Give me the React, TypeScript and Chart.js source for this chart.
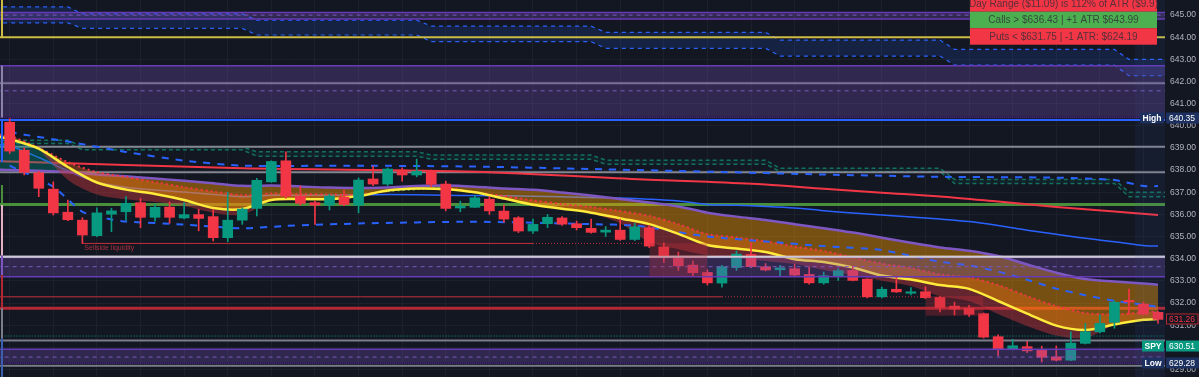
import React, { useEffect, useRef } from 'react';
import { Chart, registerables } from 'chart.js';

Chart.register(...registerables);

const W = 1199;
const H = 377;
const BG = '#131722';
const GREEN = '#089981';
const RED = '#f23645';

// ---- candles (5-min SPY) ----
const opens = [640.16, 638.9, 637.88, 637.14, 636.1, 635.74, 635.04, 636.01, 636.12, 636.53,
  635.87, 636.33, 635.84, 635.99, 635.9, 634.95, 635.74, 636.27, 637.47, 638.42,
  636.83, 636.53, 636.42, 636.78, 636.42, 637.6, 637.37, 638.0, 637.78, 637.97,
  637.37, 636.29, 636.32, 636.69, 636.15, 635.85, 635.25, 635.58, 635.84, 635.58,
  635.37, 635.2, 635.29, 634.87, 635.4, 634.53, 634.09, 633.71, 633.38, 632.9,
  633.6, 634.19, 633.64, 633.5, 633.55, 633.29, 632.91, 633.2, 633.47, 633.08,
  632.28, 632.62, 632.44, 632.51, 632.25, 631.86, 631.76, 631.52, 630.48, 629.91,
  630.03, 629.86, 629.57, 629.42, 630.18, 630.7, 631.13, 632.09, 631.95, 631.58];
const highs = [640.35, 639.0, 637.95, 637.47, 636.65, 635.85, 636.3, 636.28, 636.81, 636.72,
  636.45, 636.57, 636.54, 636.23, 636.23, 637.0, 636.3, 637.63, 638.42, 638.83,
  637.28, 636.6, 636.9, 637.1, 637.65, 638.18, 638.1, 638.1, 638.5, 638.0,
  637.5, 636.6, 636.85, 636.8, 636.42, 635.9, 635.79, 636.0, 635.9, 635.7,
  635.79, 635.45, 635.79, 635.6, 635.5, 634.71, 634.3, 633.89, 633.5, 633.7,
  634.35, 634.72, 633.78, 633.7, 633.75, 633.62, 633.4, 633.55, 633.65, 633.1,
  632.72, 633.16, 632.7, 632.73, 632.3, 632.04, 631.9, 631.55, 630.56, 630.36,
  630.27, 630.05, 630.06, 630.7, 631.08, 631.46, 632.1, 632.63, 632.05, 631.62];
const lows = [638.75, 637.78, 636.8, 635.97, 635.72, 634.69, 635.0, 635.22, 635.74, 635.4,
  635.7, 635.6, 635.8, 635.26, 634.8, 634.77, 635.55, 635.93, 637.45, 636.72,
  636.42, 635.55, 636.2, 636.4, 636.07, 637.3, 637.3, 637.5, 637.7, 637.25,
  636.16, 636.12, 636.3, 636.0, 635.65, 635.18, 635.14, 635.4, 635.5, 635.3,
  635.15, 635.0, 634.83, 634.82, 634.5, 633.82, 633.47, 633.2, 632.81, 632.72,
  633.47, 633.6, 633.45, 633.19, 633.2, 632.85, 632.85, 633.02, 633.0, 632.23,
  632.23, 632.48, 632.37, 632.2, 631.6, 631.46, 631.4, 630.42, 629.62, 629.88,
  629.76, 629.28, 629.38, 629.4, 630.15, 630.65, 630.86, 631.49, 631.45, 631.08];
const closes = [638.86, 637.9, 637.18, 636.07, 635.76, 635.07, 636.07, 636.16, 636.5, 635.87,
  636.32, 635.87, 635.99, 635.82, 634.95, 635.74, 636.24, 637.54, 638.39, 636.83,
  636.5, 636.42, 636.83, 636.45, 637.55, 637.37, 638.05, 637.78, 637.95, 637.36,
  636.27, 636.38, 636.75, 636.16, 635.79, 635.25, 635.55, 635.87, 635.56, 635.4,
  635.19, 635.29, 634.87, 635.44, 634.57, 634.09, 633.68, 633.37, 632.91, 633.64,
  634.21, 633.64, 633.49, 633.59, 633.26, 632.91, 633.23, 633.46, 633.02, 632.28,
  632.62, 632.5, 632.5, 632.24, 631.8, 631.73, 631.49, 630.46, 629.91, 630.07,
  629.84, 629.55, 629.42, 630.19, 630.7, 631.08, 632.03, 632.05, 631.5, 631.26];

// ---- moving-average ribbon (sampled every 2 bars, plus left edge) ----
const ribbonX = [-0.7, 0, 2, 4, 6, 8, 10, 12, 14, 16, 18, 20, 22, 24, 26, 28, 30, 32, 34, 36, 38,
  40, 42, 44, 46, 48, 50, 52, 54, 56, 58, 60, 62, 64, 66, 68, 70, 72, 74, 76, 78, 79];
const yellowEma = [639.5, 639.4, 638.97, 638.14, 637.44, 637.12, 636.92, 636.65, 636.29, 636.24, 636.65,
  636.69, 636.69, 636.83, 637.08, 637.17, 637.14, 637.0, 636.72, 636.44, 636.26,
  636.08, 635.82, 635.56, 635.12, 634.62, 634.46, 634.3, 633.98, 633.85, 633.6,
  633.24, 633.06, 632.81, 632.64, 632.09, 631.52, 630.98, 630.78, 631.03, 631.24, 631.28];
const dottedEma = [639.6, 639.55, 639.0, 638.36, 637.91, 637.69, 637.45, 637.23, 637.03, 636.87, 636.94,
  636.92, 636.9, 636.9, 637.05, 637.14, 637.19, 637.01, 636.83, 636.63, 636.47,
  636.33, 636.15, 635.93, 635.56, 635.11, 634.96, 634.78, 634.55, 634.35, 634.06,
  633.78, 633.58, 633.29, 633.15, 632.81, 632.31, 631.86, 631.55, 631.48, 631.58, 631.61];
const purpleEma = [638.02, 638.0, 637.97, 637.92, 637.8, 637.72, 637.62, 637.52, 637.41, 637.29, 637.31,
  637.26, 637.21, 637.19, 637.22, 637.28, 637.3, 637.25, 637.17, 637.11, 636.99,
  636.85, 636.7, 636.54, 636.36, 636.08, 635.9, 635.75, 635.56, 635.38, 635.18,
  634.95, 634.72, 634.51, 634.36, 634.12, 633.74, 633.37, 633.08, 632.97, 632.88, 632.83];
const blueMa = [639.15, 639.1, 638.57, 637.96, 637.45, 637.23, 637.1, 637.01, 636.9, 636.8, 636.86,
  636.87, 636.87, 636.88, 636.9, 636.89, 636.87, 636.85, 636.84, 636.82, 636.8,
  636.76, 636.74, 636.69, 636.61, 636.45, 636.41, 636.36, 636.29, 636.17, 636.06,
  635.97, 635.88, 635.79, 635.68, 635.5, 635.29, 635.1, 634.92, 634.77, 634.6, 634.57];
const lowerEdge1X = [2, 4, 6, 8, 10, 12, 14, 16, 18];
const lowerEdge1 = [638.97, 637.57, 636.9, 636.68, 636.56, 636.38, 636.08, 635.99, 636.65];
const lowerEdge2X = [40, 42, 44, 46, 48, 50, 52, 54, 56, 58, 60, 62, 64, 66, 68, 70, 72, 74, 76];
const lowerEdge2 = [636.08, 635.6, 634.75, 634.43, 634.16, 634.03, 633.9, 633.76, 633.49, 633.26,
  633.01, 632.77, 632.31, 632.09, 631.5, 630.96, 630.53, 630.42, 631.03];

const redMaX = [-0.7, 0, 16, 32, 44, 48, 52, 56, 60, 64, 68, 72, 76, 79];
const redMa = [638.41, 638.39, 638.08, 637.93, 637.57, 637.47, 637.35, 637.16, 636.98, 636.81, 636.58, 636.34, 636.13, 635.97];

const vwapUpperX = [0, 1, 4, 8, 12, 16, 24, 32, 40, 48, 56, 64, 72, 76, 78, 79];
const vwapUpper = [639.72, 639.6, 639.29, 638.82, 638.43, 638.2, 638.2, 638.16, 638.05, 637.93, 637.8, 637.7, 637.66, 637.55, 637.28, 637.28];
const vwapLowerX = [0, 3, 5, 7, 8, 12, 16, 19, 24, 32, 40, 43, 46, 48, 52, 56, 60, 64, 66, 68, 70, 72, 74, 76, 79];
const vwapLower = [638.2, 637.25, 636.12, 635.77, 635.68, 635.54, 635.37, 635.48, 635.59, 635.67, 635.56, 635.5, 635.2, 635.0, 634.78, 634.57, 634.39, 633.86, 633.7, 633.42, 633.05, 632.65, 632.35, 632.1, 631.83];

// ---- hourly step bands ----
const stepX = [-1, 4, 5, 16, 17, 28, 29, 40, 41, 52, 53, 64, 65, 76, 77, 81];
const blueBandUpper = [645.37, 645.37, 645.05, 645.05, 644.77, 644.77, 644.5, 644.5, 644.22, 644.22, 643.87, 643.87, 643.45, 643.45, 643.0, 643.0];
const blueBandLower = [644.65, 644.65, 644.4, 644.4, 644.1, 644.1, 643.8, 643.8, 643.5, 643.5, 643.15, 643.15, 642.74, 642.74, 642.26, 642.26];
const tealBandUpper = [639.35, 639.35, 639.05, 639.05, 638.83, 638.83, 638.68, 638.68, 638.45, 638.45, 638.08, 638.08, 637.58, 637.58, 637.0, 637.0];
const tealBandLower = [639.2, 639.2, 638.92, 638.92, 638.63, 638.63, 638.49, 638.49, 638.27, 638.27, 637.93, 637.93, 637.4, 637.4, 636.8, 636.8];

// ---- horizontal levels ----
const levelPrices = [644.0, 641.92, 640.38, 640.26, 639.05, 637.9, 636.45, 634.09, 631.76, 630.51, 630.31, 629.28, 629.17];
const levelColors = ['#cdbd45', '#7b7d88', '#07080c', '#2962ff', '#858790', '#858790', '#4a8f3c', '#cfcbd6', '#b22833', '#089981', '#7b7d88', '#07080c', '#7b7d88'];
const levelWidths = [2, 2, 2, 2, 2, 2, 3, 2, 3, 1, 2, 2, 2];
const levelDotted = [false, false, true, false, false, false, false, false, false, true, false, true, false];

// ---- purple zones ----
const zoneTops = [645.12, 642.71, 634.09, 629.91];
const zoneMids = [645.0, 641.58, 633.64, 629.56];
const zoneBottoms = [644.82, 640.38, 633.19, 629.28];

// ---- liquidity lines ----
const liqPrices = [634.69, 632.28];
const liqSolidFrom = [5, -1];
const liqSolidTo = [36, 49];
const liqDottedTo = [44, 63];
const sellsideLabel = 'Sellside liquidity';

// ---- FVG boxes ----
const boxFrom = [44, 63];
const boxTo = [48, 67];
const boxTops = [634.7, 632.32];
const boxBottoms = [633.2, 631.42];

// ---- left edge connectors ----
const edgeFrom = [645.68, 642.71, 640.26, 637.33, 636.42, 634.16, 633.26, 631.77, 630.42];
const edgeTo = [644.0, 640.38, 638.36, 636.42, 634.16, 633.26, 631.77, 630.42, 628.66];
const edgeColors = ['#cdbd45', '#8a84a8', '#2962ff', '#4a8f3c', '#e6b3c3', '#7e57c2', '#b22833', '#7b7d88', '#3d5fb0'];

// ---- axis ----
const yMin = 628.66;
const yMax = 645.68;
const yTicks = [629, 630, 631, 632, 633, 634, 635, 636, 637, 638, 639, 640, 641, 642, 643, 644, 645];
const xMin = -0.667;
const xMax = 79.48;
const xGrid = [0, 3, 6, 9, 12, 15, 18, 21, 24, 27, 30, 33, 36, 39, 42, 45, 48, 51, 54, 57, 60, 63, 66, 69, 72, 75, 78];
const shadeFrom = 77.42;

// ---- right-axis price labels ----
const tagTexts = ['640.35', '631.26', '630.51', '629.28'];
const tagAt = [640.35, 631.26, 630.07, 629.28];
const tagNames = ['High', '', 'SPY', 'Low'];
const tagBg = ['#1c3160', '#131722', '#089981', '#1c3160'];
const tagFg = ['#ffffff', '#f23645', '#ffffff', '#ffffff'];
const tagBorder = ['', '#b22833', '', ''];

// ---- table ----
const tableRows = ['Day Range ($11.09) is 112% of ATR ($9.9)', 'Calls > $636.43 | +1 ATR $643.99', 'Puts < $631.75 | -1 ATR: $624.19'];
const tableColors = ['#f23645', '#4caf50', '#f23645'];

const FONT = '"Liberation Sans", Arial, sans-serif';

function pts(xs: number[], ys: number[]) {
  return xs.map((x, k) => ({ x, y: ys[k] }));
}
function flat(p: number, x0 = -2, x1 = 82) {
  return [{ x: x0, y: p }, { x: x1, y: p }];
}

function buildDatasets() {
  const ds: any[] = [];
  const add = (d: any) => {
    ds.push({ type: 'line', pointRadius: 0, borderWidth: 1, fill: false, tension: 0, ...d });
    return ds.length - 1;
  };

  // step bands
  const bbLow = add({ data: pts(stepX, blueBandLower), borderColor: '#2962ff', borderWidth: 1.2, borderDash: [4, 4], order: 95 });
  add({ data: pts(stepX, blueBandUpper), borderColor: '#2962ff', borderWidth: 1.2, borderDash: [4, 4], order: 95,
    fill: { target: bbLow, above: 'rgba(41,98,255,0.15)', below: 'rgba(41,98,255,0.15)' } });
  const tbLow = add({ data: pts(stepX, tealBandLower), borderColor: '#14705f', borderWidth: 1.5, borderDash: [4, 3], order: 95 });
  add({ data: pts(stepX, tealBandUpper), borderColor: '#14705f', borderWidth: 1.5, borderDash: [4, 3], order: 95,
    fill: { target: tbLow, above: 'rgba(8,153,129,0.08)', below: 'rgba(8,153,129,0.08)' } });

  // levels
  levelPrices.forEach((p, k) => {
    add({ data: flat(p), borderColor: levelColors[k], borderWidth: levelWidths[k], borderDash: levelDotted[k] ? [1, 2] : [], order: 90 });
  });

  // liquidity lines
  liqPrices.forEach((p, k) => {
    add({ data: flat(p, liqSolidFrom[k], liqSolidTo[k]), borderColor: '#c2303c', borderWidth: 1, order: 89 });
    add({ data: flat(p, liqSolidTo[k], liqDottedTo[k]), borderColor: '#c2303c', borderWidth: 1, borderDash: [1, 2], order: 89 });
  });

  // slow MAs
  add({ data: pts(redMaX, redMa), borderColor: '#f23645', borderWidth: 2, order: 85, tension: 0.3 });
  add({ data: pts(ribbonX, blueMa), borderColor: '#2962ff', borderWidth: 1.5, order: 80, tension: 0.3 });
  add({ data: pts(vwapUpperX, vwapUpper), borderColor: '#2962ff', borderWidth: 2, borderDash: [7, 7], order: 78, tension: 0.2 });

  // ribbon
  const yellowIdx = ds.length + 5;
  add({ data: pts(ribbonX, purpleEma), borderColor: '#7e57c2', borderWidth: 2.5, order: 70, tension: 0.3,
    fill: { target: yellowIdx, above: 'rgba(255,160,0,0.42)', below: 'rgba(0,150,136,0.35)' } });
  add({ data: pts(lowerEdge1X, lowerEdge1), borderColor: 'rgba(0,0,0,0)', borderWidth: 0, order: 68, tension: 0.3,
    fill: { target: yellowIdx, above: 'rgba(0,0,0,0)', below: 'rgba(200,55,65,0.45)' } });
  add({ data: pts(lowerEdge2X, lowerEdge2), borderColor: 'rgba(0,0,0,0)', borderWidth: 0, order: 68, tension: 0.3,
    fill: { target: yellowIdx, above: 'rgba(0,0,0,0)', below: 'rgba(200,55,65,0.45)' } });
  add({ data: pts(ribbonX, dottedEma), borderColor: '#f23645', borderWidth: 2, borderDash: [2, 3], order: 60, tension: 0.3,
    segment: { borderColor: (c: any) => (c.p0.parsed.x >= 26 && c.p1.parsed.x <= 30 ? '#4caf50' : undefined) },
    fill: { target: yellowIdx, above: 'rgba(255,110,20,0.35)', below: 'rgba(76,175,80,0.3)' } });
  add({ data: pts(vwapLowerX, vwapLower), borderColor: '#2962ff', borderWidth: 2, borderDash: [7, 7], order: 58, tension: 0.2 });
  add({ data: pts(ribbonX, yellowEma), borderColor: '#ffeb3b', borderWidth: 2.5, order: 55, tension: 0.3 });

  // candles
  const idx = opens.map((_, i) => i);
  const colors = idx.map((i) => (closes[i] >= opens[i] ? GREEN : RED));
  ds.push({ type: 'bar', data: idx.map((i) => ({ x: i, y: [lows[i], highs[i]] })), backgroundColor: colors,
    barThickness: 1, grouped: false, order: 31, minBarLength: 1 });
  ds.push({ type: 'bar', data: idx.map((i) => ({ x: i, y: [opens[i], closes[i]] })), backgroundColor: colors,
    barThickness: 10, grouped: false, order: 30, minBarLength: 1.5 });

  // purple zones (over candles)
  zoneTops.forEach((t, k) => {
    const b = add({ data: flat(zoneBottoms[k]), borderColor: '#673ab7', borderWidth: 1.5, order: 20 });
    add({ data: flat(t), borderColor: '#673ab7', borderWidth: 1.5, order: 20,
      fill: { target: b, above: 'rgba(126,87,194,0.28)', below: 'rgba(126,87,194,0.28)' } });
    add({ data: flat(zoneMids[k]), borderColor: '#7e57c2', borderWidth: 1, borderDash: [4, 4], order: 20 });
  });
  add({ data: flat(640.38), borderColor: '#07080c', borderWidth: 2, borderDash: [1, 1], order: 19 });
  add({ data: flat(629.28), borderColor: '#07080c', borderWidth: 2, borderDash: [1, 1], order: 19 });
  add({ data: flat(634.09), borderColor: '#cfcbd6', borderWidth: 2, order: 19 });

  // FVG boxes
  boxTops.forEach((t, k) => {
    const b = add({ data: flat(boxBottoms[k], boxFrom[k], boxTo[k]), borderColor: 'rgba(0,0,0,0)', borderWidth: 0, order: 15 });
    add({ data: flat(t, boxFrom[k], boxTo[k]), borderColor: 'rgba(0,0,0,0)', borderWidth: 0, order: 15,
      fill: { target: b, above: 'rgba(190,45,60,0.32)', below: 'rgba(190,45,60,0.32)' } });
  });

  // left edge connectors
  edgeFrom.forEach((f, k) => {
    add({ data: [{ x: -0.53, y: f }, { x: -0.53, y: edgeTo[k] }], borderColor: edgeColors[k], borderWidth: 2, order: 10 });
  });

  return ds;
}

const overlay = {
  id: 'overlay',
  beforeDraw(chart: any) {
    const ctx = chart.ctx;
    ctx.save();
    ctx.fillStyle = BG;
    ctx.fillRect(0, 0, chart.width, chart.height);
    ctx.restore();
  },
  afterDatasetsDraw(chart: any) {
    const { ctx, chartArea } = chart;
    const x = chart.scales.x;
    const y = chart.scales.y;
    ctx.save();
    const sx = x.getPixelForValue(shadeFrom);
    ctx.fillStyle = 'rgba(70,100,190,0.08)';
    ctx.fillRect(sx, chartArea.top, chartArea.right - sx, chartArea.bottom - chartArea.top);
    ctx.font = '7px ' + FONT;
    ctx.fillStyle = '#a8303e';
    ctx.textAlign = 'left';
    ctx.textBaseline = 'middle';
    ctx.fillText(sellsideLabel, x.getPixelForValue(liqSolidFrom[0]) + 2, y.getPixelForValue(liqPrices[0]) + 4.5);
    const tw = 187;
    const tx = chartArea.right - 8 - tw;
    const rh = 16.5;
    let ty = -4.8;
    ctx.font = '10px ' + FONT;
    ctx.textAlign = 'center';
    tableRows.forEach((t, k) => {
      ctx.fillStyle = tableColors[k];
      ctx.fillRect(tx, ty, tw, rh);
      ctx.fillStyle = 'rgba(45,45,55,0.78)';
      ctx.fillText(t, tx + tw / 2, ty + rh / 2 + 0.5);
      ty += rh;
    });
    ctx.restore();
  },
  afterDraw(chart: any) {
    const { ctx, chartArea } = chart;
    const y = chart.scales.y;
    ctx.save();
    ctx.font = '8.5px ' + FONT;
    ctx.textAlign = 'left';
    ctx.textBaseline = 'middle';
    ctx.fillStyle = '#b2b5be';
    yTicks.forEach((v) => {
      ctx.fillText(v.toFixed(2), chartArea.right + 5, y.getPixelForValue(v));
    });
    const bh = 11;
    tagTexts.forEach((t, k) => {
      const cy = Math.round(y.getPixelForValue(tagAt[k]));
      ctx.fillStyle = tagBg[k];
      ctx.fillRect(chartArea.right + 1, cy - bh / 2, W - chartArea.right - 1, bh);
      if (tagBorder[k]) {
        ctx.strokeStyle = tagBorder[k];
        ctx.lineWidth = 1;
        ctx.strokeRect(chartArea.right + 1.5, cy - bh / 2 + 0.5, W - chartArea.right - 2.5, bh - 1);
      }
      ctx.fillStyle = tagFg[k];
      ctx.font = '8.5px ' + FONT;
      ctx.textAlign = 'left';
      ctx.fillText(t, chartArea.right + 4, cy + 0.5);
      if (tagNames[k]) {
        ctx.font = 'bold 8.5px ' + FONT;
        const w = ctx.measureText(tagNames[k]).width + 5;
        ctx.fillStyle = tagBg[k];
        ctx.fillRect(chartArea.right - 1 - w, cy - bh / 2, w, bh);
        ctx.fillStyle = '#ffffff';
        ctx.textAlign = 'center';
        ctx.fillText(tagNames[k], chartArea.right - 1 - w / 2, cy + 0.5);
      }
    });
    ctx.restore();
  },
};

export default function App() {
  const ref = useRef<HTMLCanvasElement | null>(null);
  useEffect(() => {
    if (!ref.current) return;
    const chart = new Chart(ref.current, {
      type: 'bar',
      data: { datasets: buildDatasets() },
      options: {
        animation: false,
        responsive: false,
        devicePixelRatio: 1,
        events: [],
        layout: { padding: 0 },
        plugins: { legend: { display: false }, tooltip: { enabled: false } },
        scales: {
          x: {
            type: 'linear',
            min: xMin,
            max: xMax,
            offset: false,
            display: true,
            grid: { color: '#1c202b', offset: false, drawTicks: false },
            border: { display: false },
            ticks: { display: false },
            afterBuildTicks: (s: any) => { s.ticks = xGrid.map((v) => ({ value: v })); },
            afterFit: (s: any) => { s.height = 0; },
          },
          y: {
            type: 'linear',
            position: 'right',
            min: yMin,
            max: yMax,
            grid: { color: '#1c202b', drawTicks: false },
            border: { display: false },
            ticks: { display: false },
            afterBuildTicks: (s: any) => { s.ticks = yTicks.map((v) => ({ value: v })); },
            afterFit: (s: any) => { s.width = 34; },
          },
        },
      } as any,
      plugins: [overlay],
    });
    return () => chart.destroy();
  }, []);
  return (
    <div style={{ position: 'fixed', left: 0, top: 0, width: W, height: H, background: BG }}>
      <canvas ref={ref} width={W} height={H} style={{ display: 'block', width: W, height: H }} />
    </div>
  );
}
